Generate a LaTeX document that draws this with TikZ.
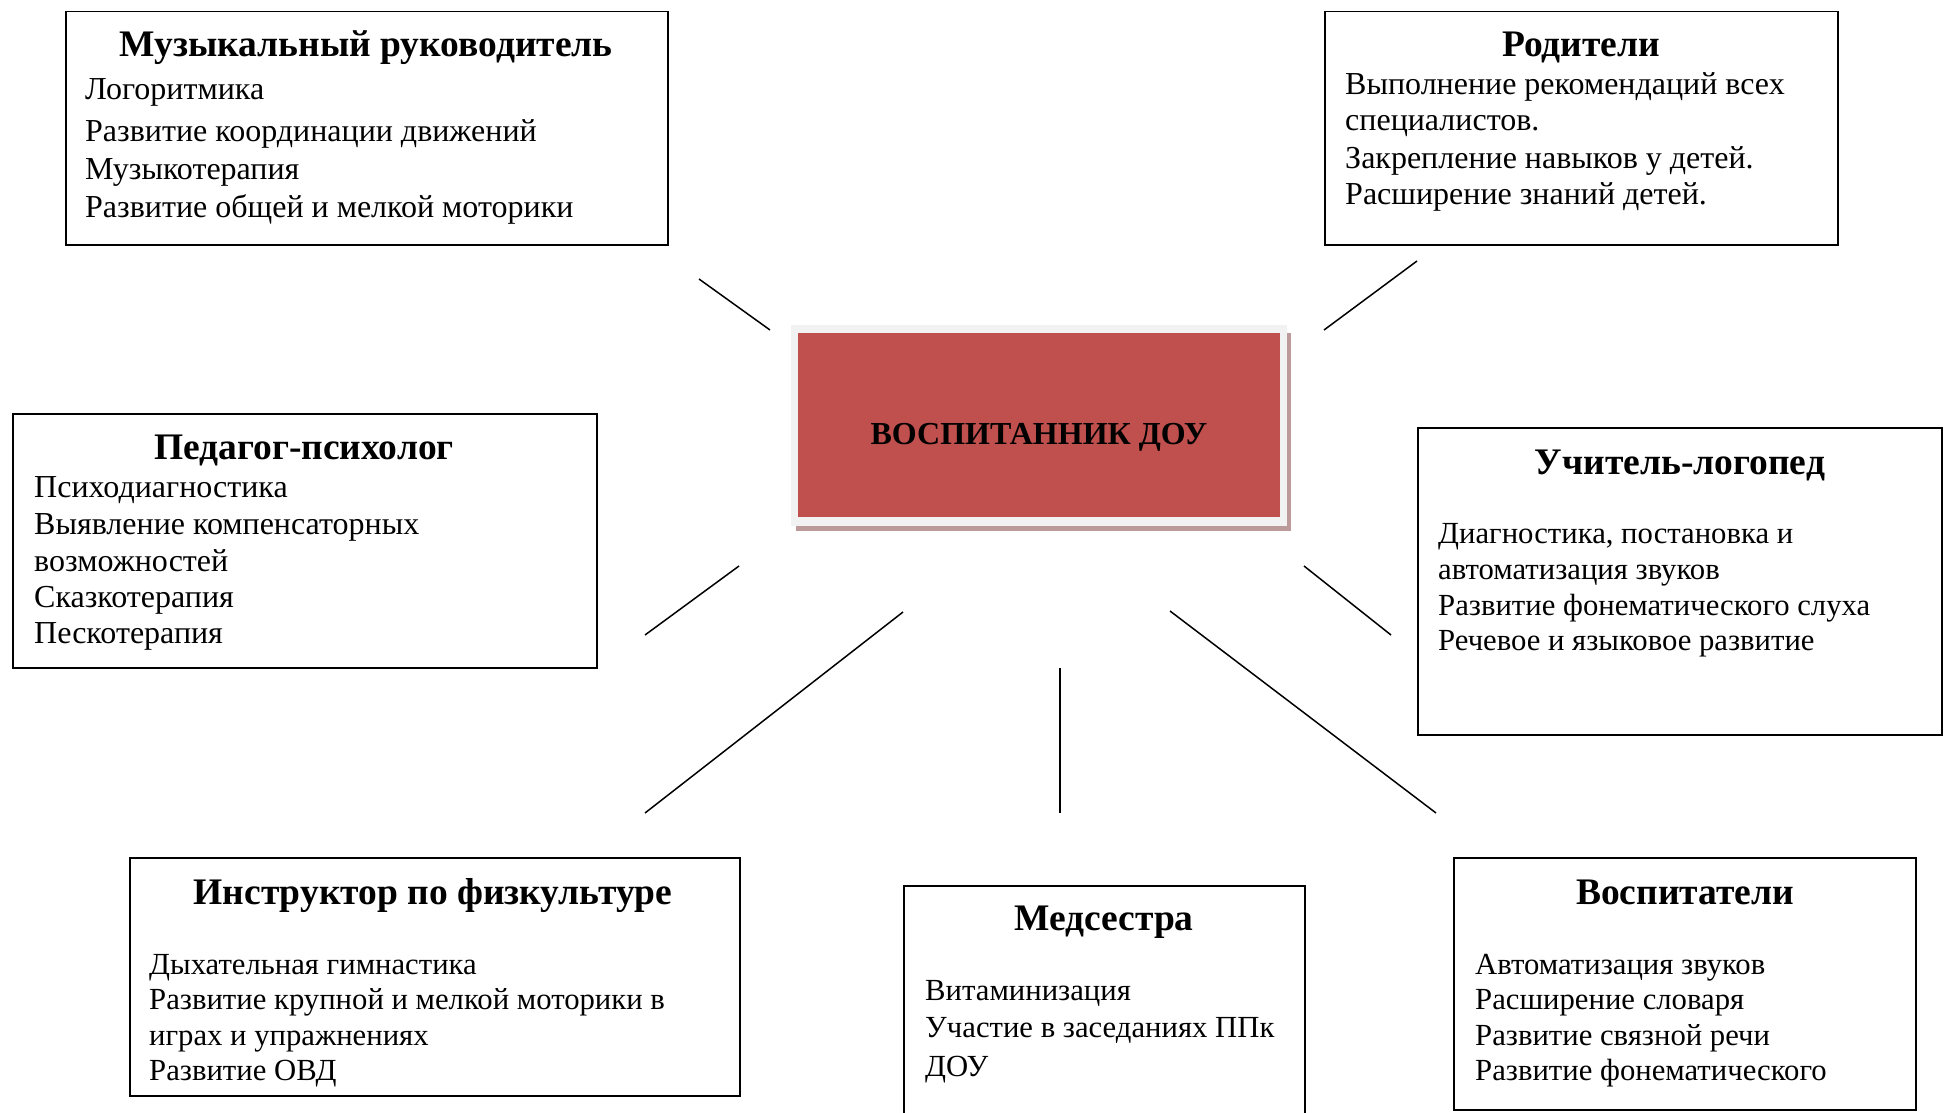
\documentclass[tikz,border=0pt]{standalone}
\usepackage{fontspec}
\setmainfont{Liberation Serif}
\definecolor{redfill}{HTML}{C0504D}
\definecolor{framefill}{HTML}{F2F2F2}
\definecolor{shadowc}{HTML}{BC9A9A}
\begin{document}
\begin{tikzpicture}[x=1pt,y=-1pt,
  rolebox/.style={draw=black,line width=1.5pt,anchor=north west,inner sep=0pt,fill=white},
  ttl/.style={font=\fontsize{37.5}{44}\selectfont\bfseries,anchor=base,inner sep=0pt},
  bd/.style={font=\fontsize{32}{37}\selectfont,anchor=base west,inner sep=0pt},
  bds/.style={font=\fontsize{30.7}{37}\selectfont,anchor=base west,inner sep=0pt},
  conn/.style={line width=1.5pt,black}]
\useasboundingbox (0,0) rectangle (1951,1113);
\clip (0,0) rectangle (1951,1113);
% center
\fill[shadowc] (796,333) rectangle (1291,531);
\fill[framefill] (791,325) rectangle (1287,526);
\node[fill=redfill,minimum width=482pt,minimum height=184pt,inner sep=0pt,anchor=north west] (ctr) at (798,333) {};
\node[font=\fontsize{32}{38}\selectfont\bfseries,anchor=base,inner sep=0pt] (ctrT) at (1039,444) {ВОСПИТАННИК ДОУ};
% boxes
\node[rolebox,minimum width=602pt,minimum height=233pt] (mus) at (65,11) {};
\node[rolebox,minimum width=513pt,minimum height=233pt] (par) at (1324,11) {};
\node[rolebox,minimum width=584pt,minimum height=254pt] (psy) at (12,413) {};
\node[rolebox,minimum width=524pt,minimum height=307pt] (log) at (1417,427) {};
\node[rolebox,minimum width=610pt,minimum height=238pt] (phy) at (129,857) {};
\node[rolebox,minimum width=401pt,minimum height=260pt] (med) at (903,885) {};
\node[rolebox,minimum width=462pt,minimum height=252pt] (vos) at (1453,857) {};
% music
\node[ttl] (musT) at (366,57) {Музыкальный руководитель};
\node[bd] (mus1) at (85,100) {Логоритмика};
\node[bd] (mus2) at (85,142) {Развитие координации движений};
\node[bd] (mus3) at (85,179) {Музыкотерапия};
\node[bd] (mus4) at (85,217) {Развитие общей и мелкой моторики};
% parents
\node[ttl] (parT) at (1581,57) {Родители};
\node[bd] (par1) at (1345,95) {Выполнение рекомендаций всех};
\node[bd] (par2) at (1345,131) {специалистов.};
\node[bd] (par3) at (1345,168) {Закрепление навыков у детей.};
\node[bd] (par4) at (1345,204) {Расширение знаний детей.};
% psychologist
\node[ttl] (psyT) at (304,459) {Педагог-психолог};
\node[bd] (psy1) at (34,497) {Психодиагностика};
\node[bd] (psy2) at (34,534) {Выявление компенсаторных};
\node[bd] (psy3) at (34,571) {возможностей};
\node[bd] (psy4) at (34,607) {Сказкотерапия};
\node[bd] (psy5) at (34,643) {Пескотерапия};
% speech therapist
\node[ttl] (logT) at (1680,474) {Учитель-логопед};
\node[bds] (log1) at (1438,543) {Диагностика, постановка и};
\node[bds] (log2) at (1438,579) {автоматизация звуков};
\node[bds] (log3) at (1438,615) {Развитие фонематического слуха};
\node[bds] (log4) at (1438,650) {Речевое и языковое развитие};
% PE
\node[ttl] (phyT) at (433,904) {Инструктор по физкультуре};
\node[bds] (phy1) at (149,974) {Дыхательная гимнастика};
\node[bds] (phy2) at (149,1009) {Развитие крупной и мелкой моторики в};
\node[bds] (phy3) at (149,1045) {играх и упражнениях};
\node[bds] (phy4) at (149,1080) {Развитие ОВД};
% nurse
\node[ttl] (medT) at (1104,930) {Медсестра};
\node[bds] (med1) at (925,1000) {Витаминизация};
\node[bds] (med2) at (925,1037) {Участие в заседаниях ППк};
\node[bds] (med3) at (925,1076) {ДОУ};
% educators
\node[ttl] (vosT) at (1685,904) {Воспитатели};
\node[bds] (vos1) at (1475,974) {Автоматизация звуков};
\node[bds] (vos2) at (1475,1009) {Расширение словаря};
\node[bds] (vos3) at (1475,1045) {Развитие связной речи};
\node[bds] (vos4) at (1475,1080) {Развитие фонематического};
% connectors
\coordinate (a1) at (699,279); \coordinate (a2) at (770,330);
\coordinate (b1) at (1324,330); \coordinate (b2) at (1417,261);
\coordinate (c1) at (739,566); \coordinate (c2) at (645,635);
\coordinate (d1) at (1304,566); \coordinate (d2) at (1391,635);
\coordinate (e1) at (903,612); \coordinate (e2) at (645,813);
\coordinate (f1) at (1060,668); \coordinate (f2) at (1060,813);
\coordinate (g1) at (1170,611); \coordinate (g2) at (1436,813);
\draw[conn] (a1) -- (a2);
\draw[conn] (b1) -- (b2);
\draw[conn] (c1) -- (c2);
\draw[conn] (d1) -- (d2);
\draw[conn] (e1) -- (e2);
\draw[conn] (f1) -- (f2);
\draw[conn] (g1) -- (g2);
\end{tikzpicture}
\end{document}
